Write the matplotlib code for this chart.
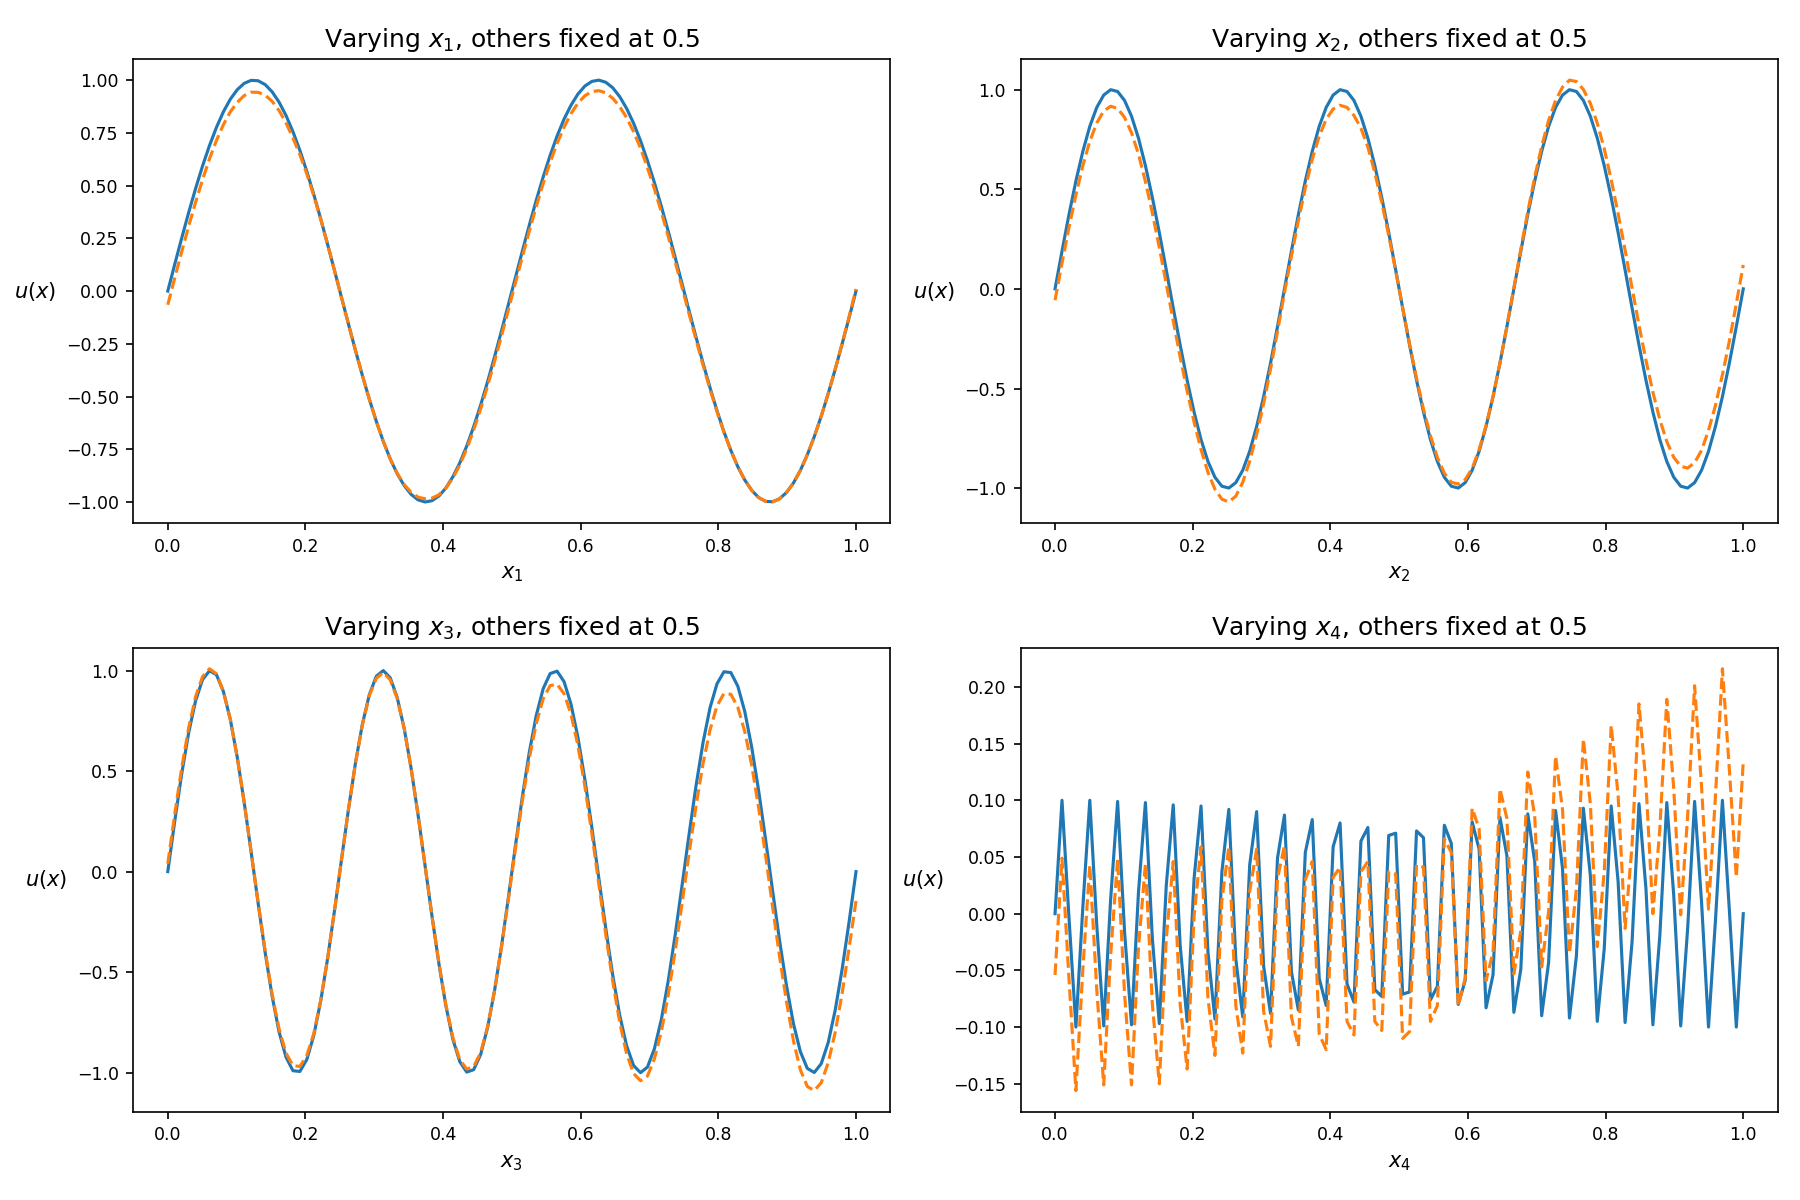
import numpy as np
import matplotlib
matplotlib.use("Agg")
import matplotlib.pyplot as plt

# ---- data ----
u1_true = [0.000, 0.127, 0.251, 0.372, 0.486, 0.593, 0.690, 0.776, 0.850, 0.910,
           0.955, 0.985, 0.999, 0.997, 0.979, 0.945, 0.896, 0.833, 0.756, 0.667,
           0.567, 0.458, 0.342, 0.220, 0.095, -0.032, -0.158, -0.282, -0.401, -0.514,
           -0.618, -0.713, -0.796, -0.866, -0.922, -0.964, -0.990, -1.000, -0.994, -0.972,
           -0.934, -0.881, -0.815, -0.735, -0.643, -0.541, -0.430, -0.312, -0.189, -0.063,
           0.063, 0.189, 0.312, 0.430, 0.541, 0.643, 0.735, 0.815, 0.881, 0.934,
           0.972, 0.994, 1.000, 0.990, 0.964, 0.922, 0.866, 0.796, 0.713, 0.618,
           0.514, 0.401, 0.282, 0.158, 0.032, -0.095, -0.220, -0.342, -0.458, -0.567,
           -0.667, -0.756, -0.833, -0.896, -0.945, -0.979, -0.997, -0.999, -0.985, -0.955,
           -0.910, -0.850, -0.776, -0.690, -0.593, -0.486, -0.372, -0.251, -0.127, 0.000]

u1_pred = [-0.065, 0.062, 0.186, 0.307, 0.421, 0.528, 0.627, 0.714, 0.789, 0.850,
           0.895, 0.927, 0.943, 0.942, 0.929, 0.900, 0.856, 0.798, 0.726, 0.647,
           0.555, 0.452, 0.340, 0.220, 0.095, -0.032, -0.158, -0.282, -0.401, -0.514,
           -0.618, -0.713, -0.796, -0.864, -0.917, -0.954, -0.977, -0.985, -0.982, -0.966,
           -0.934, -0.887, -0.825, -0.748, -0.659, -0.559, -0.450, -0.334, -0.213, -0.088,
           0.037, 0.162, 0.284, 0.400, 0.510, 0.610, 0.700, 0.777, 0.841, 0.891,
           0.926, 0.946, 0.950, 0.940, 0.914, 0.875, 0.822, 0.756, 0.677, 0.585,
           0.484, 0.374, 0.258, 0.137, 0.014, -0.110, -0.232, -0.352, -0.466, -0.572,
           -0.670, -0.756, -0.833, -0.896, -0.945, -0.979, -0.997, -0.999, -0.985, -0.955,
           -0.910, -0.850, -0.776, -0.690, -0.593, -0.486, -0.372, -0.248, -0.122, 0.010]

u2_true = [0.000, 0.189, 0.372, 0.541, 0.690, 0.815, 0.910, 0.972, 0.999, 0.990,
           0.945, 0.866, 0.756, 0.618, 0.458, 0.282, 0.095, -0.095, -0.282, -0.458,
           -0.618, -0.756, -0.866, -0.945, -0.990, -0.999, -0.972, -0.910, -0.815, -0.690,
           -0.541, -0.372, -0.189, 0.000, 0.189, 0.372, 0.541, 0.690, 0.815, 0.910,
           0.972, 0.999, 0.990, 0.945, 0.866, 0.756, 0.618, 0.458, 0.282, 0.095,
           -0.095, -0.282, -0.458, -0.618, -0.756, -0.866, -0.945, -0.990, -0.999, -0.972,
           -0.910, -0.815, -0.690, -0.541, -0.372, -0.189, 0.000, 0.189, 0.372, 0.541,
           0.690, 0.815, 0.910, 0.972, 0.999, 0.990, 0.945, 0.866, 0.756, 0.618,
           0.458, 0.282, 0.095, -0.095, -0.282, -0.458, -0.618, -0.756, -0.866, -0.945,
           -0.990, -0.999, -0.972, -0.910, -0.815, -0.690, -0.541, -0.372, -0.189, 0.000]

u2_pred = [-0.057, 0.129, 0.307, 0.471, 0.618, 0.740, 0.832, 0.892, 0.916, 0.905,
           0.860, 0.783, 0.676, 0.538, 0.380, 0.207, 0.025, -0.160, -0.342, -0.513,
           -0.668, -0.806, -0.921, -1.005, -1.055, -1.069, -1.040, -0.970, -0.865, -0.730,
           -0.576, -0.402, -0.214, -0.020, 0.164, 0.342, 0.506, 0.650, 0.765, 0.850,
           0.902, 0.921, 0.910, 0.870, 0.806, 0.711, 0.583, 0.433, 0.267, 0.090,
           -0.095, -0.277, -0.448, -0.603, -0.736, -0.846, -0.925, -0.970, -0.979, -0.957,
           -0.900, -0.807, -0.685, -0.541, -0.372, -0.189, 0.005, 0.199, 0.387, 0.561,
           0.715, 0.845, 0.945, 1.012, 1.047, 1.040, 1.000, 0.931, 0.831, 0.703,
           0.548, 0.377, 0.195, 0.005, -0.182, -0.358, -0.518, -0.656, -0.766, -0.845,
           -0.890, -0.899, -0.872, -0.810, -0.710, -0.585, -0.431, -0.262, -0.074, 0.120]

u3_true = [0.000, 0.251, 0.486, 0.690, 0.850, 0.955, 0.999, 0.979, 0.896, 0.756,
           0.567, 0.342, 0.095, -0.158, -0.401, -0.618, -0.796, -0.922, -0.990, -0.994,
           -0.934, -0.815, -0.643, -0.430, -0.189, 0.063, 0.312, 0.541, 0.735, 0.881,
           0.972, 1.000, 0.964, 0.866, 0.713, 0.514, 0.282, 0.032, -0.220, -0.458,
           -0.667, -0.833, -0.945, -0.997, -0.985, -0.910, -0.776, -0.593, -0.372, -0.127,
           0.127, 0.372, 0.593, 0.776, 0.910, 0.985, 0.997, 0.945, 0.833, 0.667,
           0.458, 0.220, -0.032, -0.282, -0.514, -0.713, -0.866, -0.964, -1.000, -0.972,
           -0.881, -0.735, -0.541, -0.312, -0.063, 0.189, 0.430, 0.643, 0.815, 0.934,
           0.994, 0.990, 0.922, 0.796, 0.618, 0.401, 0.158, -0.095, -0.342, -0.567,
           -0.756, -0.896, -0.979, -0.999, -0.955, -0.850, -0.690, -0.486, -0.251, 0.000]

u3_pred = [0.040, 0.286, 0.516, 0.715, 0.870, 0.970, 1.009, 0.984, 0.896, 0.756,
           0.567, 0.342, 0.095, -0.153, -0.391, -0.608, -0.781, -0.902, -0.965, -0.969,
           -0.914, -0.805, -0.638, -0.430, -0.189, 0.063, 0.312, 0.541, 0.730, 0.876,
           0.962, 0.990, 0.954, 0.861, 0.713, 0.514, 0.282, 0.032, -0.220, -0.453,
           -0.662, -0.823, -0.935, -0.982, -0.970, -0.900, -0.771, -0.593, -0.377, -0.137,
           0.112, 0.352, 0.563, 0.736, 0.860, 0.925, 0.932, 0.885, 0.783, 0.627,
           0.423, 0.190, -0.062, -0.312, -0.544, -0.748, -0.906, -1.004, -1.040, -1.017,
           -0.931, -0.795, -0.611, -0.392, -0.153, 0.094, 0.330, 0.538, 0.705, 0.824,
           0.886, 0.882, 0.817, 0.696, 0.528, 0.316, 0.078, -0.175, -0.422, -0.647,
           -0.841, -0.986, -1.069, -1.089, -1.050, -0.950, -0.800, -0.606, -0.381, -0.146]

u4_true = [0.000, 0.100, -0.003, -0.100, 0.006, 0.100, -0.010, -0.099, 0.013, 0.099,
           -0.016, -0.098, 0.019, 0.098, -0.022, -0.097, 0.025, 0.096, -0.028, -0.095,
           0.031, 0.095, -0.034, -0.093, 0.037, 0.092, -0.040, -0.091, 0.043, 0.090,
           -0.046, -0.088, 0.049, 0.087, -0.051, -0.085, 0.054, 0.083, -0.057, -0.081,
           0.059, 0.080, -0.062, -0.078, 0.064, 0.076, -0.067, -0.073, 0.069, 0.071,
           -0.071, -0.069, 0.073, 0.067, -0.076, -0.064, 0.078, 0.062, -0.080, -0.059,
           0.081, 0.057, -0.083, -0.054, 0.085, 0.051, -0.087, -0.049, 0.088, 0.046,
           -0.090, -0.043, 0.091, 0.040, -0.092, -0.037, 0.093, 0.034, -0.095, -0.031,
           0.095, 0.028, -0.096, -0.025, 0.097, 0.022, -0.098, -0.019, 0.098, 0.016,
           -0.099, -0.013, 0.099, 0.010, -0.100, -0.006, 0.100, 0.003, -0.100, 0.000]

u4_pred = [-0.054, 0.049, -0.057, -0.156, -0.049, 0.043, -0.067, -0.151, -0.036, 0.048,
           -0.071, -0.151, -0.030, 0.044, -0.080, -0.150, -0.022, 0.046, -0.080, -0.137,
           -0.002, 0.059, -0.075, -0.125, 0.012, 0.059, -0.081, -0.123, 0.020, 0.057,
           -0.086, -0.117, 0.031, 0.060, -0.091, -0.117, 0.030, 0.046, -0.106, -0.120,
           0.032, 0.041, -0.095, -0.107, 0.037, 0.046, -0.095, -0.103, 0.037, 0.035,
           -0.110, -0.104, 0.043, 0.041, -0.095, -0.081, 0.066, 0.054, -0.081, -0.057,
           0.093, 0.075, -0.059, -0.034, 0.110, 0.084, -0.053, -0.015, 0.125, 0.086,
           -0.047, 0.002, 0.139, 0.092, -0.035, 0.022, 0.154, 0.097, -0.029, 0.037,
           0.166, 0.104, -0.013, 0.060, 0.185, 0.115, 0.000, 0.075, 0.189, 0.110,
           -0.001, 0.086, 0.201, 0.112, 0.004, 0.104, 0.216, 0.127, 0.032, 0.134]

var_names = ["1", "2", "3", "4"]
true_series = [u1_true, u2_true, u3_true, u4_true]
pred_series = [u1_pred, u2_pred, u3_pred, u4_pred]

# sample grid along each varied coordinate (evenly spaced on [0, 1])
x_grid = np.linspace(0.0, 1.0, len(u1_true))

fig, axes = plt.subplots(2, 2, figsize=(12, 8), dpi=150)
for ax, k, ut, up in zip(axes.flat, var_names, true_series, pred_series):
    ax.plot(x_grid, ut, color="#1f77b4", lw=1.5, ls="-")
    ax.plot(x_grid, up, color="#ff7f0e", lw=1.5, ls="--")
    ax.set_title(f"Varying $x_{k}$, others fixed at 0.5", fontsize=12)
    ax.set_xlabel(f"$x_{k}$", fontsize=10)
    ax.set_ylabel("$u(x)$", fontsize=10, rotation=0, ha="right", va="center",
                  labelpad=4.5)
    ax.tick_params(labelsize="small")

fig.subplots_adjust(left=0.0741, right=0.9876, top=0.9508, bottom=0.0736,
                    wspace=0.172, hspace=0.2685)
fig.savefig("out.png", dpi=150)
